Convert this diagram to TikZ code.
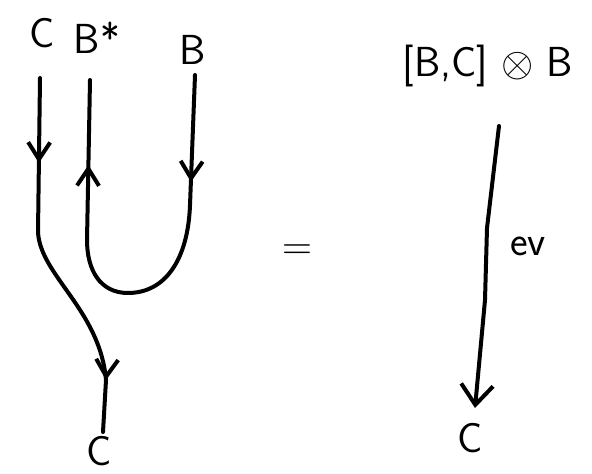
\documentclass[tikz,border=0pt]{standalone}
\usetikzlibrary{arrows.meta, decorations.markings}
\begin{document}
\begin{tikzpicture}[
  x=0.5pt, y=-0.5pt,
  strand/.style={line width=2pt, line cap=round, line join=round},
  lab/.style={font=\sffamily\fontsize{21}{25}\selectfont, inner sep=1pt},
  >={Straight Barb[length=8.5pt, width=11pt]},
  arrowat/.style={postaction={decorate, decoration={markings,
                  mark=at position #1 with {\arrow{>}}}}},
  bigtip/.style={-{Straight Barb[length=10pt, width=16pt]}}
]
  \useasboundingbox (0,0) rectangle (592,474);

  % left-hand side
  \node[lab] (cin)   at (42,33)  {C};
  \node[lab] (bstar) at (97,38)  {B*};
  \node[lab] (b)     at (193,50) {B};
  \node[lab] (cout)  at (99,451) {C};
  \coordinate (cin-end)   at (40,78);
  \coordinate (bstar-end) at (90,80);
  \coordinate (b-end)     at (195,75);
  \coordinate (cout-end)  at (103,432);

  \draw[strand, arrowat=42.5pt, arrowat=-26pt]
    (cin-end) -- (38,232) .. controls (40,275) and (100,310) .. (106,380)
    -- (cout-end);
  \draw[strand, arrowat=53.5pt, arrowat=-42.5pt]
    (b-end) -- (190,205) .. controls (188,260) and (165,293) .. (128,293)
    .. controls (100,293) and (87,270) .. (87,240) -- (bstar-end);

  \node[lab] (eq) at (297,252) {$=$};

  % right-hand side
  \node[lab] (dom) at (488,66)  {[B,C] $\otimes$ B};
  \node[lab] (cod) at (470,438) {C};
  \coordinate (dom-end) at (499,126);
  \coordinate (cod-end) at (475,408);

  \draw[strand, bigtip] (dom-end) -- (487,228) -- (485,300) -- (cod-end);
  \node[lab] (ev) at (528,246) {ev};
\end{tikzpicture}
\end{document}
